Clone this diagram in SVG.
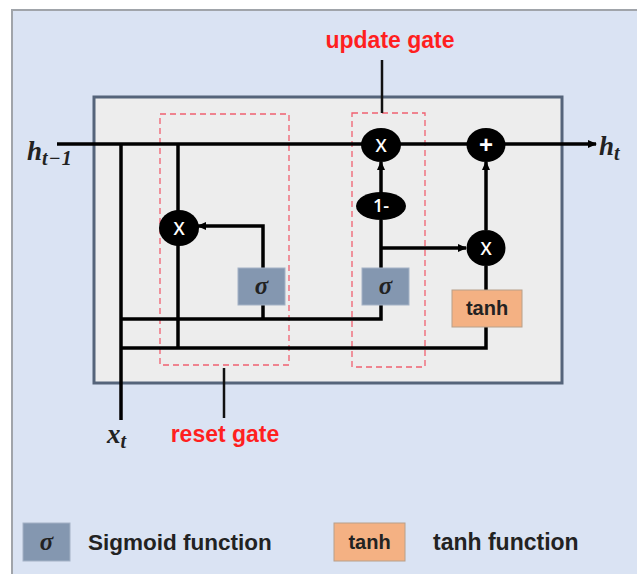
<svg xmlns="http://www.w3.org/2000/svg" width="637" height="574" viewBox="0 0 637 574">
<style>
.lbl{font-family:"Liberation Sans",Arial,sans-serif;font-weight:bold;}
.red{fill:#ff1f1f;font-size:23px;}
.math{font-family:"Liberation Serif","Times New Roman",serif;font-weight:bold;font-style:italic;fill:#222;}
.op{fill:#000;}
.optxt{font-family:"Open Sans","Liberation Sans",Arial,sans-serif;font-weight:600;fill:#fff;font-size:18px;text-anchor:middle;}
.sig{fill:#8497b0;stroke:#a4b2c6;stroke-width:1;}
.tanh{fill:#f4b183;stroke:#b8a08a;stroke-width:1;}
.gate{fill:none;stroke:#f06070;stroke-width:1.3;stroke-dasharray:6 4;}
.wire{fill:none;stroke:#000;stroke-width:3.5;}
.thin{fill:none;stroke:#111;stroke-width:2.5;}
</style>
<defs>
<marker id="ah" markerWidth="10" markerHeight="10" refX="8" refY="5" orient="auto" markerUnits="userSpaceOnUse">
<path d="M0,1 L9,5 L0,9 Z" fill="#000"/>
</marker>
</defs>
<rect x="0" y="0" width="637" height="574" fill="#ffffff"/>
<rect id="panel" x="12" y="10" width="640" height="580" fill="#dae3f3" stroke="#a0a4aa" stroke-width="2"/>
<rect id="cell" x="94" y="97" width="468" height="286" fill="#ededed" stroke="#55647a" stroke-width="3"/>

<g id="gates">
<rect class="gate" x="160" y="114" width="129" height="251"/>
<rect class="gate" x="352" y="113" width="73" height="254"/>
</g>

<g id="connectors">
<path class="wire" d="M57,144 H596" marker-end="url(#ah)"/>
<path class="wire" d="M121,144 V420"/>
<path class="wire" d="M178,144 V348"/>
<path class="wire" d="M121,319 H381 V305"/>
<path class="wire" d="M263,305 V319"/>
<path class="wire" d="M121,348 H486 V327"/>
<path class="wire" d="M263,268 V226 H198" marker-end="url(#ah)"/>
<path class="wire" d="M381,268 V220"/>
<path class="wire" d="M381,193 V162" marker-end="url(#ah)"/>
<path class="wire" d="M381,248 H466" marker-end="url(#ah)"/>
<path class="wire" d="M486,290 V266"/>
<path class="wire" d="M486,230 V162" marker-end="url(#ah)"/>
<path class="thin" d="M382,60 V113"/>
<path class="thin" d="M224,368 V418"/>
</g>

<g id="reset_mul"><ellipse class="op" cx="179" cy="228" rx="20" ry="18"/><text class="optxt" x="179" y="234.5">X</text></g>
<g id="update_mul"><ellipse class="op" cx="381" cy="145" rx="20" ry="17"/><text class="optxt" x="381" y="151.5">X</text></g>
<g id="plus"><ellipse class="op" cx="486" cy="145" rx="19.5" ry="17"/><text x="486" y="153" font-family="Liberation Sans, Arial, sans-serif" font-weight="bold" font-size="24" fill="#fff" text-anchor="middle">+</text></g>
<g id="one_minus"><ellipse class="op" cx="381" cy="206" rx="25" ry="14"/><text class="optxt" x="381" y="212" font-size="16">1-</text></g>
<g id="out_mul"><ellipse class="op" cx="486" cy="248" rx="19.5" ry="18"/><text class="optxt" x="486" y="254.5">X</text></g>

<g id="reset_sigma"><rect class="sig" x="238" y="268" width="47" height="37"/><text class="math" x="261.5" y="294" font-size="25" text-anchor="middle" fill="#1f2a3a">σ</text></g>
<g id="update_sigma"><rect class="sig" x="362" y="268" width="47" height="37"/><text class="math" x="385.5" y="294" font-size="25" text-anchor="middle" fill="#1f2a3a">σ</text></g>
<g id="tanh_box"><rect class="tanh" x="452" y="290" width="70" height="37"/><text class="lbl" x="487" y="315" font-size="20" text-anchor="middle" fill="#222">tanh</text></g>

<g id="labels">
<text class="math" x="27" y="160" font-size="27">h<tspan font-size="20" dy="5" letter-spacing="1">t−1</tspan></text>
<text class="math" x="599" y="155" font-size="27">h<tspan font-size="20" dy="5">t</tspan></text>
<text class="math" x="107" y="443" font-size="27">x<tspan font-size="20" dy="5">t</tspan></text>
<text class="lbl red" x="390" y="48" text-anchor="middle">update gate</text>
<text class="lbl red" x="225" y="442" text-anchor="middle">reset gate</text>
</g>

<g id="legend">
<rect class="sig" x="23" y="523" width="47" height="38"/><text class="math" x="46.5" y="550" font-size="25" text-anchor="middle" fill="#1f2a3a">σ</text>
<text class="lbl" x="88" y="550" font-size="22.5" fill="#222">Sigmoid function</text>
<rect class="tanh" x="334" y="523" width="71" height="38"/><text class="lbl" x="369.5" y="549" font-size="20" text-anchor="middle" fill="#222">tanh</text>
<text class="lbl" x="433" y="550" font-size="23" fill="#222">tanh function</text>
</g>
</svg>
